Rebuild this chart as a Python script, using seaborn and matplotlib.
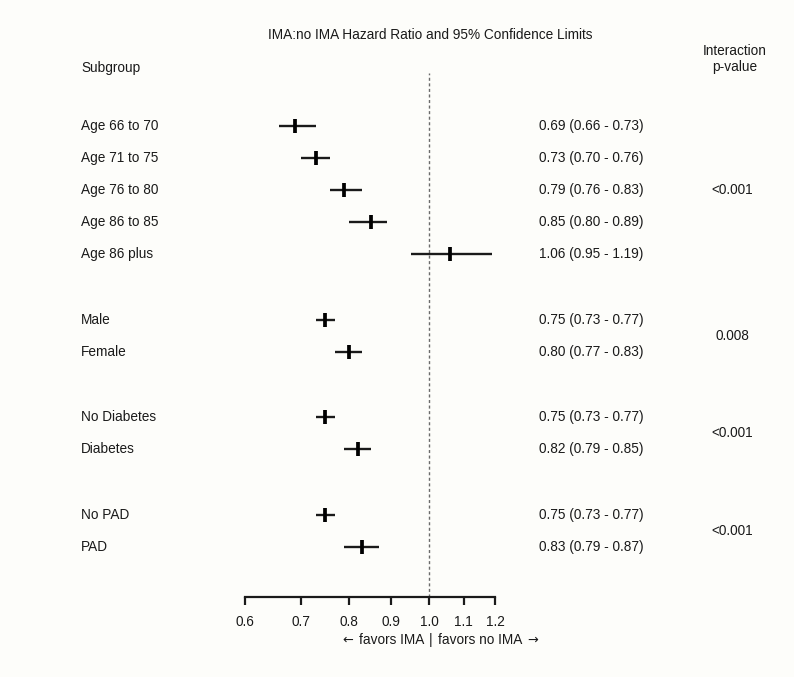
import numpy as np
import pandas as pd
import matplotlib
matplotlib.use('Agg')
import matplotlib.pyplot as plt
import matplotlib.transforms as mtransforms
import seaborn as sns

# Dữ liệu
subgroups = ['Age 66 to 70', 'Age 71 to 75', 'Age 76 to 80', 'Age 86 to 85', 'Age 86 plus',
             'Male', 'Female', 'No Diabetes', 'Diabetes', 'No PAD', 'PAD']
groups = ['Age', 'Age', 'Age', 'Age', 'Age', 'Sex', 'Sex', 'Diabetes', 'Diabetes', 'PAD', 'PAD']
hr = [0.69, 0.73, 0.79, 0.85, 1.06, 0.75, 0.80, 0.75, 0.82, 0.75, 0.83]
lower = [0.66, 0.70, 0.76, 0.80, 0.95, 0.73, 0.77, 0.73, 0.79, 0.73, 0.79]
upper = [0.73, 0.76, 0.83, 0.89, 1.19, 0.77, 0.83, 0.77, 0.85, 0.77, 0.87]
group_names = ['Age', 'Sex', 'Diabetes', 'PAD']
p_values = ['<0.001', '0.008', '<0.001', '<0.001']
x_ticks = [0.6, 0.7, 0.8, 0.9, 1.0, 1.1, 1.2]

# Vị trí các dòng (khoảng trống giữa các nhóm)
pos = []
y = 0.0
for i, g in enumerate(groups):
    if i > 0:
        y += 1.0 if g == groups[i - 1] else 2.05
    pos.append(y)

df = pd.DataFrame({'Subgroup': subgroups, 'Group': groups, 'HR': hr,
                   'Lower': lower, 'Upper': upper, 'Row': pos})

sns.set_style('white')
plt.rcParams['font.family'] = ['Liberation Sans', 'DejaVu Sans']
fs = 9.8
ink = '#1a1a1a'

fig = plt.figure(figsize=(7.94, 6.77), dpi=100)
fig.patch.set_facecolor('#fdfdfa')
W, H = 794, 677
ax = fig.add_axes([245 / W, 1 - 597 / H, 250 / W, (597 - 73) / H])
ax.set_facecolor('none')

# Khoảng tin cậy
ax.hlines(df['Row'], df['Lower'], df['Upper'], color=ink, lw=1.7, zorder=3)
# Ước lượng điểm
sns.scatterplot(data=df, x='HR', y='Row', marker='|', s=115, linewidth=2.7,
                color='black', ax=ax, zorder=4, legend=False)

ax.axvline(1.0, color='#6b6b6b', lw=1.0, ls=(0, (2.2, 1.8)), zorder=1)

ax.set_xscale('log')
ax.set_xlim(0.6, 1.2)
row_px = 32
ax.set_ylim((597 - 126) / row_px, -(126 - 73) / row_px)
ax.set_xticks(x_ticks)
ax.set_xticklabels([f'{t:.1f}' for t in x_ticks], fontsize=fs, color=ink)
ax.xaxis.set_minor_locator(matplotlib.ticker.NullLocator())
ax.set_yticks([])
ax.set_xlabel('')
ax.set_ylabel('')
for s in ['top', 'left', 'right']:
    ax.spines[s].set_visible(False)
ax.spines['bottom'].set_linewidth(1.6)
ax.spines['bottom'].set_color(ink)
ax.tick_params(axis='x', direction='out', length=6, width=1.6, color=ink, pad=7, bottom=True)

# Văn bản theo tọa độ hình (x) và dữ liệu (y)
tr = mtransforms.blended_transform_factory(fig.transFigure, ax.transData)
for _, r in df.iterrows():
    ax.text(81 / W, r['Row'], r['Subgroup'], transform=tr, fontsize=fs, color=ink,
            ha='left', va='center', clip_on=False)
    ax.text(539 / W, r['Row'], f"{r['HR']:.2f} ({r['Lower']:.2f} - {r['Upper']:.2f})",
            transform=tr, fontsize=fs, color=ink, ha='left', va='center', clip_on=False)

for g, p in zip(group_names, p_values):
    rows = df.loc[df['Group'] == g, 'Row']
    ax.text(732 / W, (rows.min() + rows.max()) / 2, p, transform=tr, fontsize=fs,
            color=ink, ha='center', va='center', clip_on=False)

fig.text(430 / W, 1 - 35 / H, 'IMA:no IMA Hazard Ratio and 95% Confidence Limits',
         fontsize=fs, color=ink, ha='center', va='center')
fig.text(81 / W, 1 - 68 / H, 'Subgroup', fontsize=fs, color=ink, ha='left', va='center')
fig.text(735 / W, 1 - 59 / H, 'Interaction\np-value', fontsize=fs, color=ink,
         ha='center', va='center', linespacing=1.25)

# Chú thích dưới trục
fy = 1 - 640 / H
fig.text(431 / W, fy, '|', fontsize=fs, color=ink, ha='center', va='center')
fig.text(424 / W, fy, 'favors IMA', fontsize=fs, color=ink, ha='right', va='center')
fig.text(353 / W, fy, '\u2190', fontsize=fs - 0.5, color=ink, ha='right', va='center',
         family='DejaVu Sans')
fig.text(438 / W, fy, 'favors no IMA', fontsize=fs, color=ink, ha='left', va='center')
fig.text(527 / W, fy, '\u2192', fontsize=fs - 0.5, color=ink, ha='left', va='center',
         family='DejaVu Sans')

fig.savefig('out.png', dpi=100, facecolor=fig.get_facecolor())
